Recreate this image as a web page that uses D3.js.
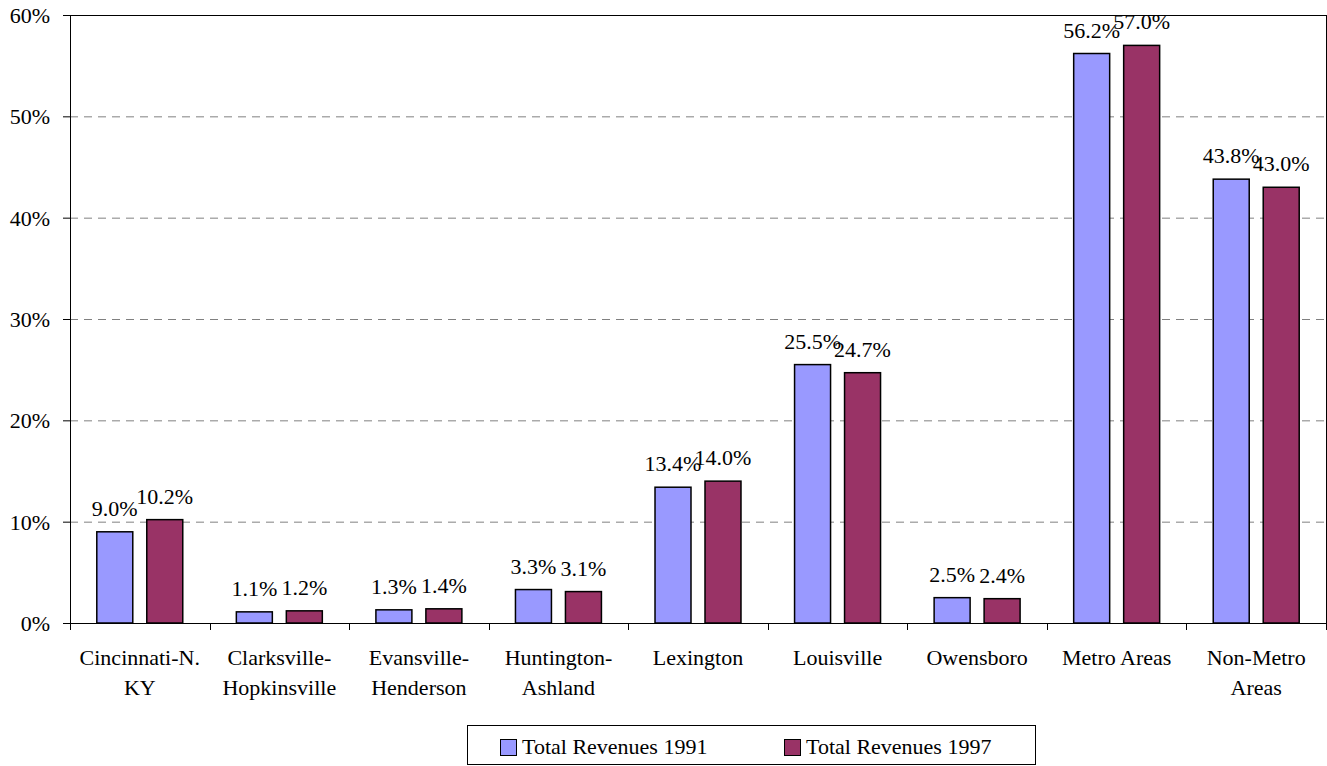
<!DOCTYPE html>
<html>
<head>
<meta charset="utf-8">
<script src="https://cdn.jsdelivr.net/npm/d3@7"></script>
<style>
  body { margin: 0; background: #fff; }
</style>
</head>
<body>
<script>
// chart data
const categories = [
  ["Cincinnati-N.", "KY"],
  ["Clarksville-", "Hopkinsville"],
  ["Evansville-", "Henderson"],
  ["Huntington-", "Ashland"],
  ["Lexington"],
  ["Louisville"],
  ["Owensboro"],
  ["Metro Areas"],
  ["Non-Metro", "Areas"]
];
const seriesNames = ["Total Revenues 1991", "Total Revenues 1997"];
const revenues1991 = [9.0, 1.1, 1.3, 3.3, 13.4, 25.5, 2.5, 56.2, 43.8];
const revenues1997 = [10.2, 1.2, 1.4, 3.1, 14.0, 24.7, 2.4, 57.0, 43.0];
const yTicks = [0, 10, 20, 30, 40, 50, 60];
const colors = ["#9999ff", "#993366"];

const width = 1327, height = 766;
const plotLeft = 70, plotRight = 1326, plotTop = 15, plotBottom = 623;
const fontSize = 22;
const serif = "'Liberation Serif', 'Times New Roman', Times, 'DejaVu Serif', serif";

const catKeys = categories.map((c, i) => i);
const table = catKeys.map(i => ({ cat: i, values: [revenues1991[i], revenues1997[i]] }));

const svg = d3.select("body").append("svg")
  .attr("width", width)
  .attr("height", height)
  .style("font-family", serif);

const x = d3.scaleBand()
  .domain(catKeys)
  .range([plotLeft, plotRight])
  .padding(0);

const xInner = d3.scaleBand()
  .domain([0, 1])
  .range([0, x.bandwidth()])
  .paddingInner(0.28)
  .paddingOuter(0.536);

const y = d3.scaleLinear()
  .domain([0, 60])
  .range([plotBottom, plotTop]);

// gridlines
svg.append("g")
  .selectAll("line")
  .data(yTicks.filter(t => t > 0 && t < 60))
  .enter()
  .append("line")
  .attr("x1", plotLeft)
  .attr("x2", plotRight)
  .attr("y1", d => y(d) + 0.5)
  .attr("y2", d => y(d) + 0.5)
  .attr("stroke", "#808080")
  .attr("stroke-width", 1)
  .attr("stroke-dasharray", "8,6");

// plot border top / right
svg.append("line")
  .attr("x1", plotLeft).attr("x2", plotRight)
  .attr("y1", plotTop + 0.5).attr("y2", plotTop + 0.5)
  .attr("stroke", "#000");
svg.append("line")
  .attr("x1", plotRight + 0.5).attr("x2", plotRight + 0.5)
  .attr("y1", plotTop).attr("y2", plotBottom)
  .attr("stroke", "#000");

// bars
const groups = svg.append("g")
  .selectAll("g")
  .data(table)
  .enter()
  .append("g")
  .attr("transform", d => `translate(${x(d.cat)},0)`);

groups.selectAll("rect")
  .data(d => d.values.map((v, s) => ({ v, s })))
  .enter()
  .append("rect")
  .attr("x", d => xInner(d.s))
  .attr("y", d => y(d.v))
  .attr("width", xInner.bandwidth())
  .attr("height", d => plotBottom - y(d.v))
  .attr("fill", d => colors[d.s])
  .attr("stroke", "#000")
  .attr("stroke-width", 1.5);

groups.selectAll("text")
  .data(d => d.values.map((v, s) => ({ v, s })))
  .enter()
  .append("text")
  .attr("x", d => xInner(d.s) + xInner.bandwidth() / 2)
  .attr("y", d => y(d.v) - 16)
  .attr("text-anchor", "middle")
  .style("font-family", serif)
  .style("font-size", fontSize + "px")
  .text(d => d.v.toFixed(1) + "%");

// y axis
const yAxis = d3.axisLeft(y)
  .tickValues(yTicks)
  .tickSize(7)
  .tickPadding(13)
  .tickFormat(d => d + "%");

const gy = svg.append("g")
  .attr("transform", `translate(${plotLeft},0)`)
  .call(yAxis)
  .attr("font-family", null)
  .attr("font-size", null);
gy.select(".domain").attr("stroke", "#000");
gy.selectAll(".tick line").attr("stroke", "#000");
gy.selectAll("text")
  .style("font-size", fontSize + "px")
  .style("font-family", serif)
  .attr("dy", "0.34em")
  .attr("fill", "#000");

// x axis line
const xAxis = d3.axisBottom(x)
  .tickSize(0)
  .tickFormat("");
const gx = svg.append("g")
  .attr("transform", `translate(0,${plotBottom})`)
  .call(xAxis);
gx.select(".domain").attr("stroke", "#000").attr("d", `M${plotLeft},0.5H${plotRight}`);

// tick marks between categories
svg.append("g")
  .selectAll("line")
  .data(catKeys.concat([categories.length]))
  .enter()
  .append("line")
  .attr("x1", d => Math.round(plotLeft + d * x.step()) + 0.5)
  .attr("x2", d => Math.round(plotLeft + d * x.step()) + 0.5)
  .attr("y1", plotBottom)
  .attr("y2", plotBottom + 7)
  .attr("stroke", "#000");

// category labels
const labels = svg.append("g")
  .selectAll("text")
  .data(catKeys)
  .enter()
  .append("text")
  .attr("x", d => x(d) + x.bandwidth() / 2)
  .attr("y", 665)
  .attr("text-anchor", "middle")
  .style("font-family", serif)
  .style("font-size", fontSize + "px");

labels.selectAll("tspan")
  .data(d => categories[d])
  .enter()
  .append("tspan")
  .attr("x", function() { return d3.select(this.parentNode).attr("x"); })
  .attr("dy", (d, i) => i === 0 ? 0 : 30)
  .text(d => d);

// legend
const legend = svg.append("g");
legend.append("rect")
  .attr("x", 467.5)
  .attr("y", 725.5)
  .attr("width", 568)
  .attr("height", 39)
  .attr("fill", "#fff")
  .attr("stroke", "#000");

const legendX = [500, 784];
seriesNames.forEach((name, i) => {
  legend.append("rect")
    .attr("x", legendX[i] + 0.5)
    .attr("y", 739.5)
    .attr("width", 16)
    .attr("height", 16)
    .attr("fill", colors[i])
    .attr("stroke", "#000");
  legend.append("text")
    .attr("x", legendX[i] + 22)
    .attr("y", 754)
    .style("font-family", serif)
    .style("font-size", fontSize + "px")
    .text(name);
});
</script>
</body>
</html>
